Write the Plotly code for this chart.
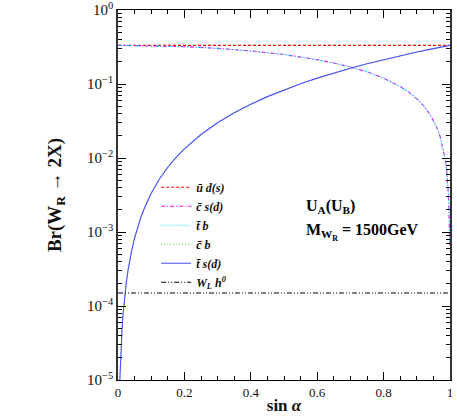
import plotly.graph_objects as go

# sin(alpha) sample points and branching ratios
x_flat = [0.0, 1.0]
br_ud = [0.333, 0.333]
br_wh = [1.5e-4, 1.5e-4]

x_rise = [0.0055, 0.0065, 0.008, 0.01, 0.0125, 0.015, 0.0175, 0.02, 0.025, 0.03,
          0.035, 0.04, 0.05, 0.06, 0.07, 0.08, 0.09, 0.1, 0.125, 0.15, 0.175, 0.2,
          0.25, 0.3, 0.35, 0.4, 0.45, 0.5, 0.55, 0.6, 0.65, 0.7, 0.75, 0.8, 0.85,
          0.9, 0.95, 1.0]
br_rise = [1.0e-5, 1.4e-5, 2.1e-5, 3.3e-5, 5.2e-5, 7.5e-5, 1.02e-4, 1.33e-4,
           2.08e-4, 3.0e-4, 4.1e-4, 5.3e-4, 8.3e-4, 1.2e-3, 1.63e-3, 2.13e-3,
           2.7e-3, 3.33e-3, 5.2e-3, 7.5e-3, 0.0102, 0.0133, 0.0208, 0.030, 0.0408,
           0.0533, 0.0675, 0.0833, 0.101, 0.12, 0.141, 0.163, 0.1875, 0.213, 0.241,
           0.27, 0.301, 0.333]

x_fall = [0.0, 0.1, 0.2, 0.3, 0.4, 0.5, 0.55, 0.6, 0.65, 0.7, 0.75, 0.8, 0.85,
          0.875, 0.9, 0.92, 0.94, 0.95, 0.96, 0.97, 0.98, 0.985, 0.99, 0.993,
          0.995, 0.997, 0.998, 0.999]
br_fall = [0.333, 0.330, 0.320, 0.303, 0.280, 0.250, 0.233, 0.213, 0.192, 0.170,
           0.146, 0.120, 0.0925, 0.078, 0.0633, 0.0512, 0.0388, 0.0325, 0.0261,
           0.0197, 0.0132, 0.0099, 0.0066, 0.0047, 0.0033, 0.002, 0.00133, 6.7e-4]

series = [
    ("<b><i>ū d(s)</i></b>", x_flat, br_ud, "#ff0000", "3px,2px"),
    ("<b><i>c̄ s(d)</i></b>", x_fall, br_fall, "#ff00ff", "4px,2px,1px,2px"),
    ("<b><i>t̄ b</i></b>", x_fall, br_fall, "#00e8ff", "1px,1.5px"),
    ("<b><i>c̄ b</i></b>", x_rise, br_rise, "#33dd33", "1px,2px"),
    ("<b><i>t̄ s(d)</i></b>", x_rise, br_rise, "#4d4dff", "solid"),
    ("<b><i>W<sub>L</sub> h<sup>0</sup></i></b>", x_flat, br_wh, "#000000",
     "5px,2px,1px,2px,1px,2px"),
]

y_major = [1e-5, 1e-4, 1e-3, 1e-2, 1e-1, 1]
y_labels = ["10<sup>−5</sup>", "10<sup>−4</sup>", "10<sup>−3</sup>",
            "10<sup>−2</sup>", "10<sup>−1</sup>", "10<sup>0</sup>"]
y_minor = [m * 10 ** e for e in range(-5, 0) for m in range(2, 10)]

serif = "Liberation Serif, DejaVu Serif, Times New Roman, serif"

fig = go.Figure()
for name, xs, ys, color, dash in series:
    fig.add_trace(go.Scatter(x=xs, y=ys, name=name, mode="lines",
                             line=dict(color=color, dash=dash, width=1.1)))

fig.add_annotation(x=0.56, y=0.47, xref="paper", yref="paper", xanchor="left",
                   showarrow=False, text="<b>U<sub>A</sub>(U<sub>B</sub>)</b>",
                   font=dict(family=serif, size=16, color="black"))
fig.add_annotation(x=0.56, y=0.40, xref="paper", yref="paper", xanchor="left",
                   showarrow=False, text="<b>M<sub>W<sub>R</sub></sub> = 1500GeV</b>",
                   font=dict(family=serif, size=16, color="black"))

fig.update_layout(
    width=457, height=416,
    plot_bgcolor="white", paper_bgcolor="white",
    margin=dict(l=118, r=7, t=10, b=36),
    font=dict(family=serif, size=13, color="#111111"),
    showlegend=True,
    legend=dict(x=0.115, y=0.56, xanchor="left", yanchor="top",
                bgcolor="rgba(0,0,0,0)", font=dict(family=serif, size=12),
                tracegroupgap=0),
)
fig.update_xaxes(
    range=[0, 1], showgrid=False, zeroline=False, automargin=False,
    showline=True, linecolor="black", linewidth=1, mirror="ticks",
    ticks="inside", ticklen=8, tickcolor="black",
    tickvals=[0, 0.2, 0.4, 0.6, 0.8, 1], ticktext=["0", "0.2", "0.4", "0.6", "0.8", "1"],
    minor=dict(ticks="inside", ticklen=4, tickcolor="black",
               tickvals=[0.05 * i for i in range(21)]),
    tickfont=dict(family=serif, size=13), ticklabeloverflow="allow",
    title=dict(text="<b>sin <i>α</i></b>", font=dict(family=serif, size=17), standoff=0),
)
fig.update_yaxes(
    type="log", range=[-5, 0], showgrid=False, zeroline=False, automargin=False,
    showline=True, linecolor="#333333", linewidth=1.5, mirror="ticks",
    ticks="inside", ticklen=8, tickcolor="black",
    tickvals=y_major, ticktext=y_labels,
    minor=dict(ticks="inside", ticklen=4, tickcolor="black", tickvals=y_minor),
    tickfont=dict(family=serif, size=15), ticklabeloverflow="allow",
    title=dict(text="<b>Br(W<sub>R</sub> → 2X)</b>", font=dict(family=serif, size=19),
               standoff=20),
)

# drop the page's default body margin so the figure sits at the window origin
fig.write_html("out.html", config={"displayModeBar": False},
               post_script="document.body.style.margin='0';")
